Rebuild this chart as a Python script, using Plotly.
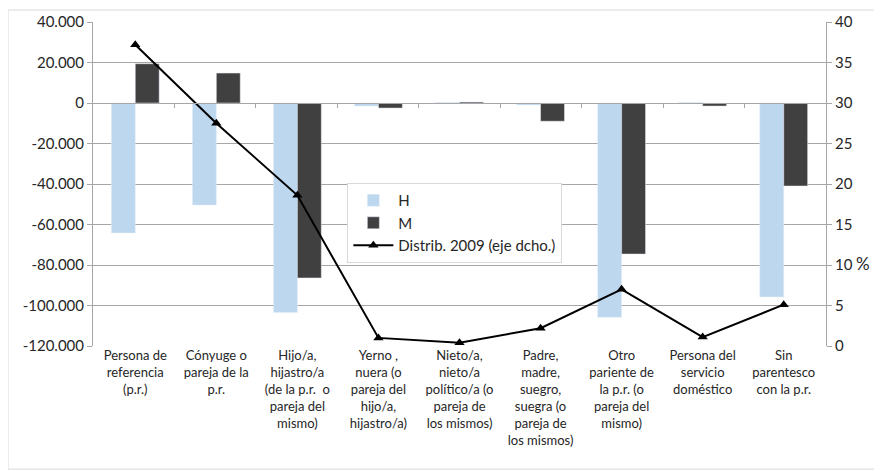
"""Variación por relación con la persona de referencia: barras H/M y distribución 2009."""

import plotly.graph_objects as go

CATEGORIES = [
    "Persona de<br>referencia<br>(p.r.)",
    "Cónyuge o<br>pareja de la<br>p.r.",
    "Hijo/a,<br>hijastro/a<br>(de la p.r.  o<br>pareja del<br>mismo)",
    "Yerno ,<br>nuera (o<br>pareja del<br>hijo/a,<br>hijastro/a)",
    "Nieto/a,<br>nieto/a<br>político/a (o<br>pareja de<br>los mismos)",
    "Padre,<br>madre,<br>suegro,<br>suegra (o<br>pareja de<br>los mismos)",
    "Otro<br>pariente de<br>la p.r. (o<br>pareja del<br>mismo)",
    "Persona del<br>servicio<br>doméstico",
    "Sin<br>parentesco<br>con la p.r.",
]

H_VALUES = [-64200, -50400, -103500, -1500, 300, -1000, -105800, 300, -95800]
M_VALUES = [19400, 14800, -86400, -2500, 500, -9000, -74600, -1500, -41000]
DISTRIB_2009 = [37.2, 27.5, 18.6, 1.0, 0.4, 2.2, 7.0, 1.1, 5.1]

LEFT_TICKS = [40000, 20000, 0, -20000, -40000, -60000, -80000, -100000, -120000]
LEFT_TICK_LABELS = ["40.000", "20.000", "0", "-20.000", "-40.000", "-60.000",
                    "-80.000", "-100.000", "-120.000"]
RIGHT_TICKS = [0, 5, 10, 15, 20, 25, 30, 35, 40]
RIGHT_TICK_LABELS = ["0", "5", "10", "15", "20", "25", "30", "35", "40"]

FONT = "Lato, Open Sans, sans-serif"
GRID = "#A6A6A6"
LEFT_RANGE = [-120000, 40000]

fig = go.Figure()
fig.add_trace(go.Bar(x=CATEGORIES, y=H_VALUES, name="H", marker_color="#BDD7EE"))
fig.add_trace(go.Bar(x=CATEGORIES, y=M_VALUES, name="M", marker_color="#404040"))
fig.add_trace(
    go.Scatter(
        x=CATEGORIES,
        y=DISTRIB_2009,
        name="Distrib. 2009 (eje dcho.)",
        mode="lines+markers",
        yaxis="y2",
        line=dict(color="black", width=2),
        marker=dict(symbol="triangle-up", size=9, color="black"),
    )
)
# empty trace so the category axis drawn at y=0 (tick marks between groups) exists
fig.add_trace(
    go.Scatter(
        x=CATEGORIES, y=[None] * len(CATEGORIES), xaxis="x2",
        showlegend=False, hoverinfo="skip", mode="markers",
    )
)

# where 0 sits on the left axis, as a fraction of the plot height
zero_pos = (0 - LEFT_RANGE[0]) / (LEFT_RANGE[1] - LEFT_RANGE[0])

# the page body adds an 8px margin, so the figure is 8px smaller than the window
fig.update_layout(
    width=874,
    height=463,
    margin=dict(l=85, r=56, t=14, b=125, autoexpand=False),
    paper_bgcolor="white",
    plot_bgcolor="white",
    font=dict(family=FONT, size=13, color="#262626"),
    barmode="group",
    bargap=0.41,
    bargroupgap=0,
    showlegend=True,
    legend=dict(
        x=0.347, y=0.503, xanchor="left", yanchor="top",
        bgcolor="white", bordercolor="#D9D9D9", borderwidth=1,
        font=dict(size=15),
        itemwidth=40,
        tracegroupgap=2,
    ),
    xaxis=dict(
        showgrid=False,
        tickfont=dict(size=13),
        tickangle=0,
        showline=False,
        automargin=False,
    ),
    xaxis2=dict(
        overlaying="x",
        anchor="free",
        position=zero_pos,
        side="bottom",
        type="category",
        categoryarray=CATEGORIES,
        showticklabels=False,
        showgrid=False,
        showline=True,
        linecolor=GRID,
        ticks="outside",
        tickson="boundaries",
        tickcolor=GRID,
        ticklen=4,
        automargin=False,
    ),
    yaxis=dict(
        range=LEFT_RANGE,
        tickvals=LEFT_TICKS,
        ticktext=LEFT_TICK_LABELS,
        tickfont=dict(size=15),
        showgrid=True,
        gridcolor=GRID,
        zeroline=False,
        showline=True,
        linecolor=GRID,
        ticks="outside",
        tickcolor=GRID,
        ticklen=5,
        automargin=False,
    ),
    yaxis2=dict(
        range=[0, 40],
        overlaying="y",
        side="right",
        tickvals=RIGHT_TICKS,
        ticktext=RIGHT_TICK_LABELS,
        tickfont=dict(size=15),
        showgrid=False,
        zeroline=False,
        showline=True,
        linecolor=GRID,
        ticks="outside",
        tickcolor=GRID,
        ticklen=5,
        automargin=False,
    ),
    annotations=[
        dict(
            text="%", xref="paper", yref="paper", x=1.038, y=0.215,
            showarrow=False, font=dict(size=17), xanchor="left",
        )
    ],
    shapes=[
        dict(
            type="rect", xref="paper", yref="paper",
            x0=-0.116, x1=1.0737, y0=-0.38, y1=1.037,
            line=dict(color="#D9D9D9", width=1), layer="below",
        )
    ],
)

fig.write_html("out.html")
